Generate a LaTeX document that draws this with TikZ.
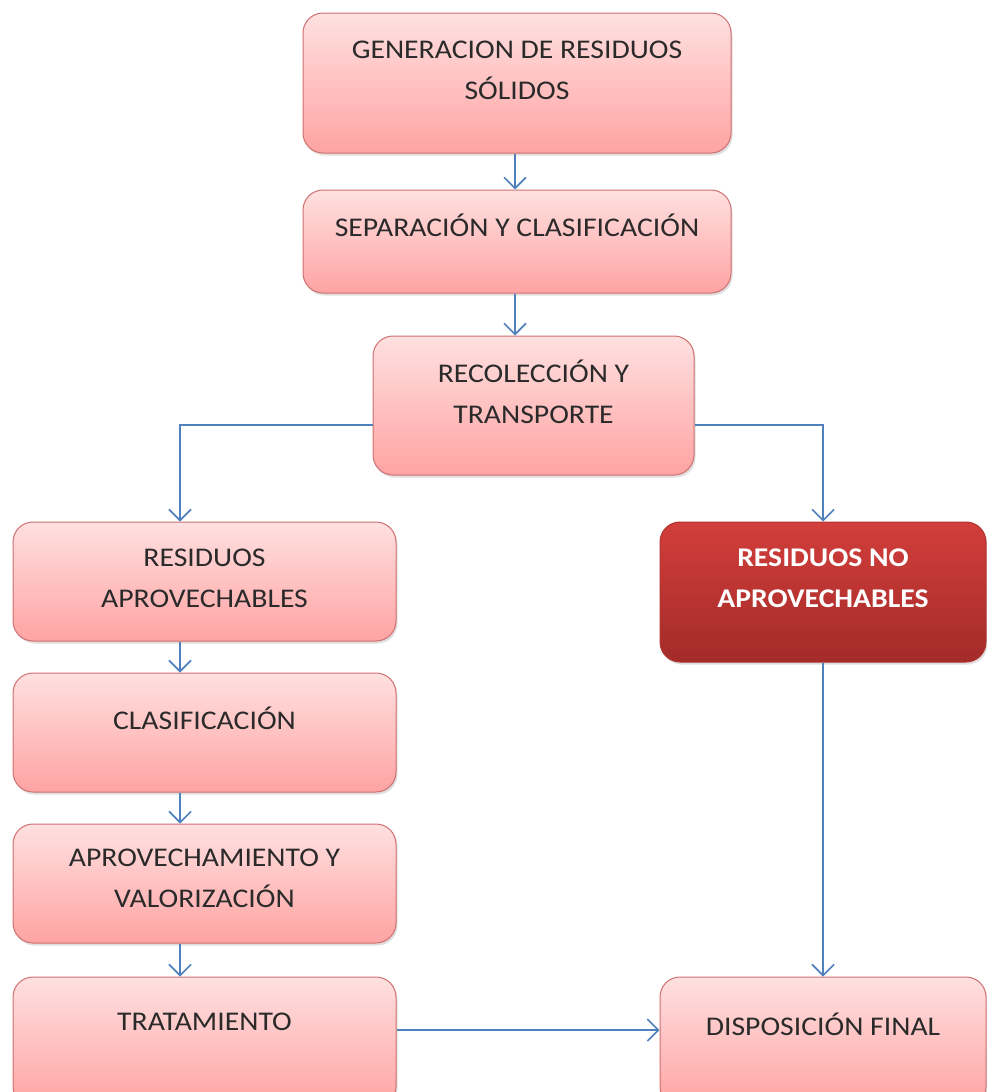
\documentclass[tikz,border=0pt]{standalone}
\usepackage{fontspec}
\setmainfont{Carlito}[FakeStretch=1.1]
\usetikzlibrary{arrows.meta,calc,shadows}

\definecolor{boxtop}{HTML}{FFE0E0}
\definecolor{boxbot}{HTML}{FFA3A3}
\definecolor{boxline}{HTML}{D07070}
\definecolor{redtop}{HTML}{D23E3B}
\definecolor{redbot}{HTML}{A32B29}
\definecolor{redline}{HTML}{B03330}
\definecolor{flow}{HTML}{4F81BD}
\definecolor{ink}{HTML}{2A2A2A}

\tikzset{
  stepbox/.style={draw=boxline, line width=1pt, rounded corners=20pt,
    top color=boxtop, bottom color=boxbot,
    drop shadow={opacity=0.25, shadow xshift=1.5pt, shadow yshift=-2.5pt}},
  redbox/.style={stepbox, draw=redline, top color=redtop, bottom color=redbot},
  lbl/.style={align=center, text=ink, font=\fontsize{27}{41}\selectfont, inner sep=0pt},
  wlbl/.style={lbl, text=white, font=\fontsize{27}{41}\selectfont\bfseries},
  flowline/.style={draw=flow, line width=1.6pt,
    -{Straight Barb[length=11pt, width=22pt, line width=1.6pt]}},
}

\begin{document}
\begin{tikzpicture}[x=1pt, y=-1pt]
\useasboundingbox (0,0) rectangle (987,1092);
\fill[white] (0,0) rectangle (987,1092);
\clip (0,0) rectangle (987,1092);

% boxes
\node[stepbox, minimum width=428pt, minimum height=140pt] (gen) at (517,83) {};
\node[stepbox, minimum width=428pt, minimum height=103pt] (sep) at (517,241.5) {};
\node[stepbox, minimum width=321pt, minimum height=139pt] (rec) at (533.5,405.5) {};
\node[stepbox, minimum width=383pt, minimum height=119pt] (apr) at (204.5,581.5) {};
\node[redbox, minimum width=326pt, minimum height=140pt] (noa) at (823,592) {};
\node[stepbox, minimum width=383pt, minimum height=119pt] (cla) at (204.5,732.5) {};
\node[stepbox, minimum width=383pt, minimum height=119pt] (val) at (204.5,883.5) {};
\node[stepbox, minimum width=383pt, minimum height=130pt] (tra) at (204.5,1042) {};
\node[stepbox, minimum width=326pt, minimum height=130pt] (dis) at (823,1042) {};

% texts
\node[lbl] (tgen) at (517,70.5) {GENERACION DE RESIDUOS\\SÓLIDOS};
\node[lbl] (tsep) at (517,225) {SEPARACIÓN Y CLASIFICACIÓN};
\node[lbl] (trec) at (533.5,392) {RECOLECCIÓN Y\\TRANSPORTE};
\node[lbl] (tapr) at (204.5,578) {RESIDUOS\\APROVECHABLES};
\node[wlbl] (tnoa) at (823,578) {RESIDUOS NO\\APROVECHABLES};
\node[lbl] (tcla) at (204.5,718) {CLASIFICACIÓN};
\node[lbl] (tval) at (204.5,878) {APROVECHAMIENTO Y\\VALORIZACIÓN};
\node[lbl] (ttra) at (204.5,1022) {TRATAMIENTO};
\node[lbl] (tdis) at (823,1024) {DISPOSICIÓN FINAL};

% connectors
\coordinate (colL) at (180,0);
\coordinate (colM) at (515,0);
\draw[flowline] (colM |- gen.south) -- (colM |- sep.north);
\draw[flowline] (colM |- sep.south) -- (colM |- rec.north);
\draw[flowline] ($(rec.west)+(0,19.5)$) -| (colL |- apr.north);
\draw[flowline] ($(rec.east)+(0,19.5)$) -| (noa.north);
\draw[flowline] (colL |- apr.south) -- (colL |- cla.north);
\draw[flowline] (colL |- cla.south) -- (colL |- val.north);
\draw[flowline] (colL |- val.south) -- (colL |- tra.north);
\draw[flowline] (noa) -- (dis);
\draw[flowline] (tra.east |- 0,1030) -- (dis.west |- 0,1030);
\end{tikzpicture}
\end{document}
